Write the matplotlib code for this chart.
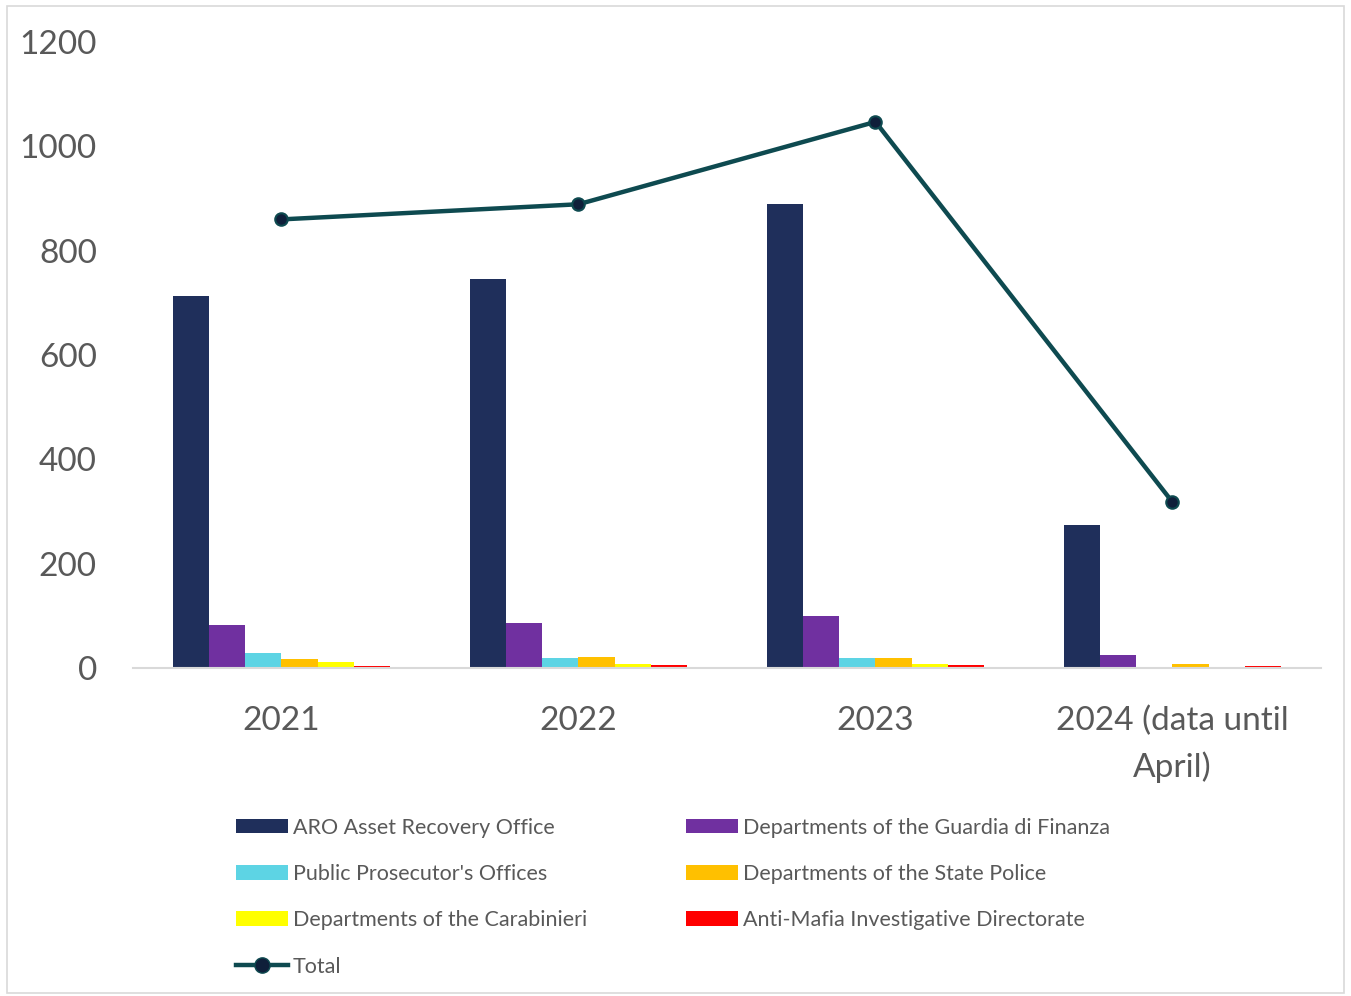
import matplotlib

matplotlib.use("Agg")
import matplotlib.pyplot as plt  # noqa: E402
import numpy as np  # noqa: E402
from matplotlib.lines import Line2D  # noqa: E402
from matplotlib.patches import Patch, Rectangle  # noqa: E402

plt.rcParams["font.family"] = ["Lato", "DejaVu Sans"]

years = ["2021", "2022", "2023", "2024 (data until\nApril)"]

series_names = [
    "ARO Asset Recovery Office",
    "Departments of the Guardia di Finanza",
    "Public Prosecutor's Offices",
    "Departments of the State Police",
    "Departments of the Carabinieri",
    "Anti-Mafia Investigative Directorate",
]
series_colors = ["#1F2F5B", "#7030A0", "#5DD4E4", "#FFC000", "#FFFF00", "#FF0000"]

aro = [713, 746, 889, 274]
guardia_finanza = [82, 86, 100, 25]
prosecutors = [28, 19, 19, 1]
state_police = [17, 21, 19, 8]
carabinieri = [12, 8, 8, 1]
anti_mafia = [4, 5, 5, 4]
total = [860, 889, 1047, 318]

series_values = [aro, guardia_finanza, prosecutors, state_police, carabinieri, anti_mafia]

TEXT_COLOR = "#595959"
LINE_COLOR = "#0E4A50"

fig = plt.figure(figsize=(13.51, 9.96), dpi=100)
ax = fig.add_axes([0.0984, 0.3293, 0.8794, 0.6285])

x = np.arange(len(years))
n = len(series_values)
group_width = 0.73
bar_width = group_width / n
for i, (name, values, color) in enumerate(zip(series_names, series_values, series_colors)):
    offset = (i - (n - 1) / 2) * bar_width
    ax.bar(x + offset, values, width=bar_width, color=color, label=name, zorder=2)

ax.plot(x, total, color=LINE_COLOR, linewidth=3.2, marker="o", markersize=9,
        markerfacecolor="#0F1F3A", markeredgecolor=LINE_COLOR, markeredgewidth=1.5,
        zorder=3)

ax.set_xlim(-0.5, len(years) - 0.5)
ax.set_ylim(0, 1200)
ax.set_yticks(range(0, 1201, 200))
ax.set_xticks(x)
ax.set_xticklabels(years, linespacing=1.6)
ax.tick_params(axis="y", length=0, pad=26, labelsize=24, labelcolor=TEXT_COLOR)
ax.tick_params(axis="x", length=0, pad=27, labelsize=24, labelcolor=TEXT_COLOR)
for side in ("left", "right", "top"):
    ax.spines[side].set_visible(False)
ax.spines["bottom"].set_color("#D9D9D9")
ax.spines["bottom"].set_linewidth(1.5)

# legend filled column-first: left column then right column
bar_handles = [Patch(facecolor=c) for c in series_colors]
total_handle = Line2D([], [], color=LINE_COLOR, linewidth=3.2, marker="o", markersize=11,
                      markerfacecolor="#0F1F3A", markeredgecolor=LINE_COLOR)
handles = [bar_handles[0], bar_handles[2], bar_handles[4], total_handle,
           bar_handles[1], bar_handles[3], bar_handles[5]]
labels = [series_names[0], series_names[2], series_names[4], "Total",
          series_names[1], series_names[3], series_names[5]]
fig.legend(handles, labels, loc="upper left", bbox_to_anchor=(0.1747, 0.179),
           ncol=2, frameon=False, fontsize=15.5, labelcolor=TEXT_COLOR,
           handlelength=2.4, handleheight=0.65, handletextpad=0.25,
           labelspacing=1.22, columnspacing=4.6, borderpad=0, borderaxespad=0)

fig.patches.append(Rectangle((0.005, 0.003), 0.99, 0.991, transform=fig.transFigure,
                             fill=False, edgecolor="#D9D9D9", linewidth=1.2))

fig.savefig("out.png", dpi=100)
